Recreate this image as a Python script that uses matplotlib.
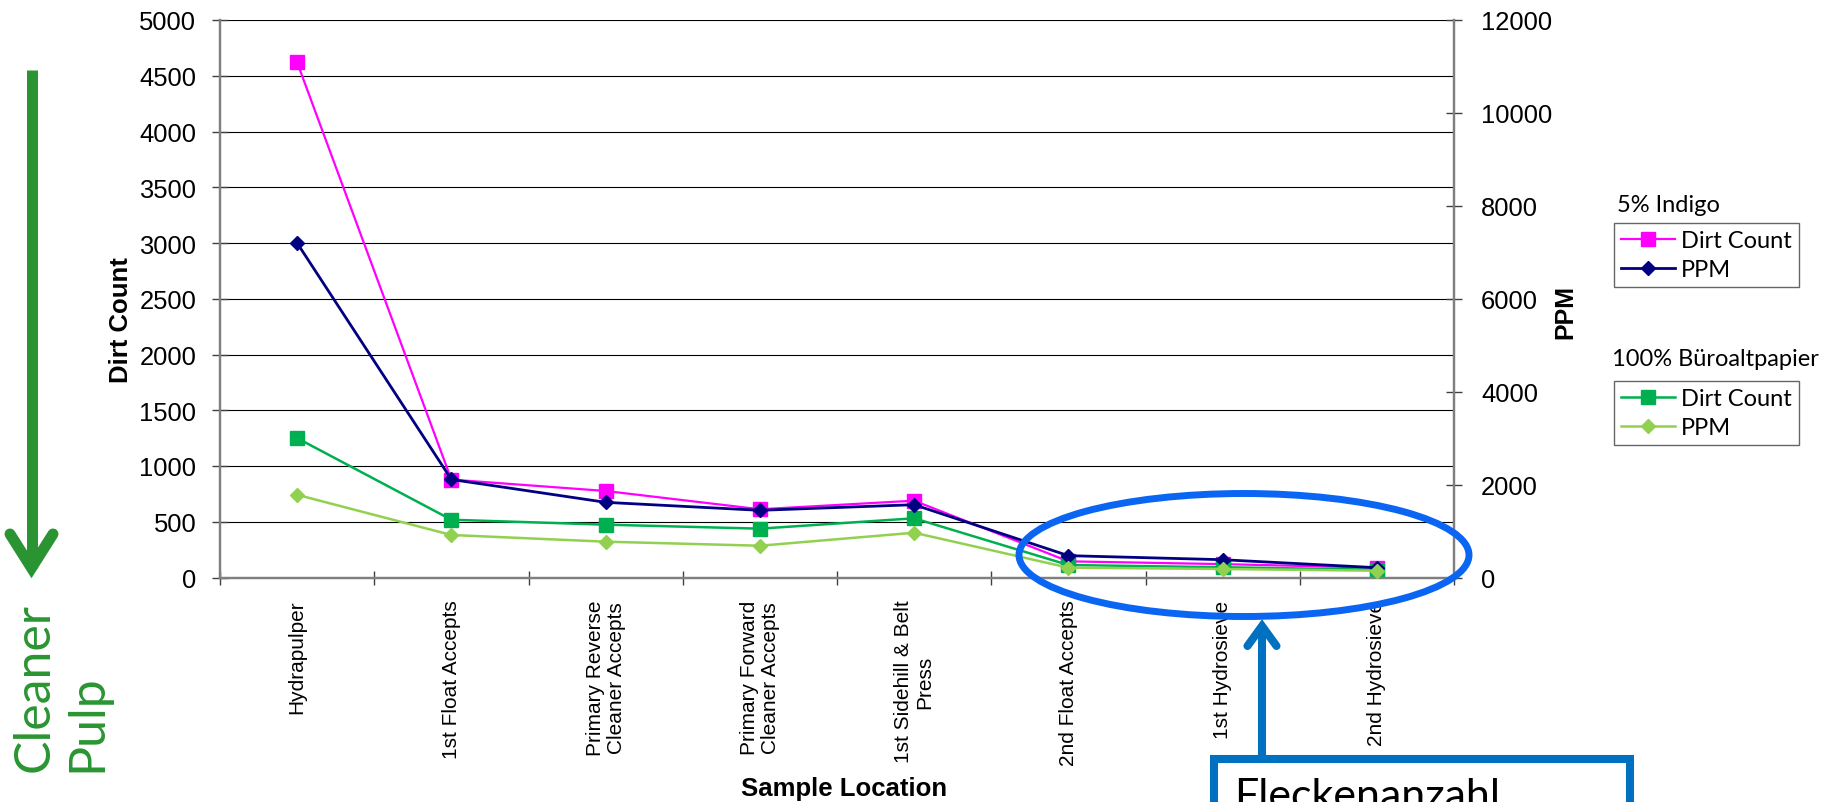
import matplotlib
matplotlib.use("Agg")
import matplotlib.pyplot as plt
from matplotlib.lines import Line2D
from matplotlib.patches import Ellipse, Rectangle
from matplotlib.ticker import FixedLocator, NullFormatter, FixedFormatter

# ---- data -------------------------------------------------------------
categories = [
    "Hydrapulper",
    "1st Float Accepts",
    "Primary Reverse\nCleaner Accepts",
    "Primary Forward\nCleaner Accepts",
    "1st Sidehill & Belt\nPress",
    "2nd Float Accepts",
    "1st Hydrosieve",
    "2nd Hydrosieve",
]
indigo_dirt = [4620, 878, 776, 612, 689, 145, 120, 88]
indigo_ppm = [7200, 2110, 1618, 1446, 1567, 470, 383, 211]
buero_dirt = [1250, 518, 474, 438, 531, 112, 92, 70]
buero_ppm = [1780, 915, 771, 684, 964, 211, 183, 146]

left_ticks = list(range(0, 5001, 500))
right_ticks = list(range(0, 12001, 2000))

# ---- figure geometry (pixels) -----------------------------------------
W, H, DPI = 1839, 803, 100
fig = plt.figure(figsize=(W / DPI, H / DPI), dpi=DPI)
fig.patch.set_facecolor("white")


def fx(x):
    return x / W


def fy(y):
    return 1 - y / H


SANS = "Liberation Sans"
ROUND = "Lato"

ax_l, ax_r, ax_t, ax_b = 220, 1454, 21, 578.5
ax = fig.add_axes([fx(ax_l), fy(ax_b), (ax_r - ax_l) / W, (ax_b - ax_t) / H])
ax2 = ax.twinx()

x = list(range(len(categories)))

# primary axis: dirt counts
ax.plot(x, indigo_dirt, color="#FF00FF", lw=1.6, marker="s", ms=10,
        markeredgecolor="#FF00FF", label="Dirt Count", zorder=3)
ax.plot(x, buero_dirt, color="#00B050", lw=1.8, marker="s", ms=10,
        markeredgecolor="#00B050", label="Dirt Count", zorder=3)
# secondary axis: ppm
ax2.plot(x, indigo_ppm, color="#000080", lw=2.0, marker="D", ms=7.5,
         markeredgecolor="#000080", label="PPM", zorder=3)
ax2.plot(x, buero_ppm, color="#92D050", lw=1.8, marker="D", ms=7.5,
         markeredgecolor="#92D050", label="PPM", zorder=3)

ax.set_xlim(-0.5, len(categories) - 0.5)
ax.set_ylim(0, 5000)
ax2.set_ylim(0, 12000)

# gridlines on the left scale
for v in left_ticks[1:]:
    ax.axhline(v, color="black", lw=0.8, zorder=1)

ax.set_yticks(left_ticks)
ax2.set_yticks(right_ticks)

# category boundaries carry the tick marks, centres carry the labels
ax.xaxis.set_major_locator(FixedLocator([i - 0.5 for i in range(len(categories) + 1)]))
ax.xaxis.set_major_formatter(NullFormatter())
ax.xaxis.set_minor_locator(FixedLocator(x))
ax.xaxis.set_minor_formatter(FixedFormatter(categories))
ax.tick_params(axis="x", which="major", direction="inout", length=9.5, width=1.0,
               color="#404040")
ax.tick_params(axis="x", which="minor", length=0, pad=16)
for lab in ax.get_xticklabels(minor=True):
    lab.set_rotation(90)
    lab.set_fontfamily(SANS)
    lab.set_fontsize(15)
    lab.set_linespacing(1.12)
    lab.set_multialignment("center")

ax.tick_params(axis="y", direction="inout", length=11, width=1.0, color="#404040",
               labelsize=18.4, pad=11.5)
ax2.tick_params(axis="y", direction="inout", length=11, width=1.0, color="#404040",
                labelsize=18.4, pad=14)
for lab in ax.get_yticklabels() + ax2.get_yticklabels():
    lab.set_fontfamily(SANS)

for a in (ax, ax2):
    a.spines["top"].set_visible(False)
    for s in ("left", "right", "bottom"):
        a.spines[s].set_color("#7f7f7f")
        a.spines[s].set_linewidth(1.6)
    a.patch.set_alpha(0)

span_x = ax_r - ax_l
span_y = ax_b - ax_t
ax.set_ylabel("Dirt Count", fontfamily=SANS, fontweight="bold", fontsize=18.5)
ax.yaxis.set_label_coords((133 - ax_l) / span_x, (ax_b - 320) / span_y)
ax2.set_ylabel("PPM", fontfamily=SANS, fontweight="bold", fontsize=18)
ax2.yaxis.set_label_coords((1553 - ax_l) / span_x, (ax_b - 312) / span_y)
ax.set_xlabel("Sample Location", fontfamily=SANS, fontweight="bold", fontsize=18.5)
ax.xaxis.set_label_coords((844 - ax_l) / span_x, (ax_b - 777) / span_y)

# ---- legends ----------------------------------------------------------
h_l = ax.get_lines()
h_r = ax2.get_lines()
leg_kw = dict(loc="upper left", bbox_transform=fig.transFigure, frameon=True,
              fancybox=False, edgecolor="#404040", borderaxespad=0,
              prop={"family": ROUND, "size": 17}, handlelength=2.3,
              handletextpad=0.25, borderpad=0.3, labelspacing=0.35)
leg1 = fig.legend([h_l[0], h_r[0]], ["Dirt Count", "PPM"],
                  bbox_to_anchor=(fx(1614), fy(224)), **leg_kw)
leg1.get_frame().set_linewidth(1.0)
leg2 = fig.legend([h_l[1], h_r[1]], ["Dirt Count", "PPM"],
                  bbox_to_anchor=(fx(1614), fy(382)), **leg_kw)
leg2.get_frame().set_linewidth(1.0)
fig.text(fx(1617), fy(212), "5% Indigo", family=ROUND, fontsize=17,
         ha="left", va="baseline")
fig.text(fx(1612), fy(366), "100% Büroaltpapier", family=ROUND, fontsize=17,
         ha="left", va="baseline")

# ---- callouts ---------------------------------------------------------
green = "#2A9432"
fig.add_artist(Line2D([fx(31.5), fx(31.5)], [fy(71), fy(569)], color=green,
                      lw=7.9, solid_capstyle="butt", zorder=6))
fig.add_artist(Line2D([fx(10), fx(31.5), fx(53)], [fy(535), fy(569), fy(535)],
                      color=green, lw=7.9, solid_capstyle="round",
                      solid_joinstyle="miter", zorder=6))
fig.text(fx(12), fy(772), "Cleaner\nPulp", rotation=90, color=green,
         family=ROUND, fontsize=36, ha="left", va="bottom",
         multialignment="left", linespacing=1.18)

blue_ring = "#0A66F2"
fig.add_artist(Ellipse((fx(1244), fy(556)), 450 / W, 123 / H, fill=False,
                       edgecolor=blue_ring, lw=5.0, zorder=6))

blue = "#0070C0"
fig.add_artist(Line2D([fx(1262), fx(1262)], [fy(627), fy(760)], color=blue,
                      lw=5.8, solid_capstyle="butt", zorder=6))
fig.add_artist(Line2D([fx(1247.5), fx(1262), fx(1276.5)],
                      [fy(647), fy(627), fy(647)], color=blue, lw=5.8,
                      solid_capstyle="round", solid_joinstyle="miter", zorder=6))
fig.add_artist(Rectangle((fx(1214), fy(900)), 415.5 / W, 140 / H, fill=False,
                         edgecolor=blue, lw=5.8, zorder=6))
fig.text(fx(1234), fy(778), "Fleckenanzahl", family=ROUND, fontsize=31,
         ha="left", va="top", zorder=7)

fig.savefig("out.png", dpi=DPI, facecolor="white")
